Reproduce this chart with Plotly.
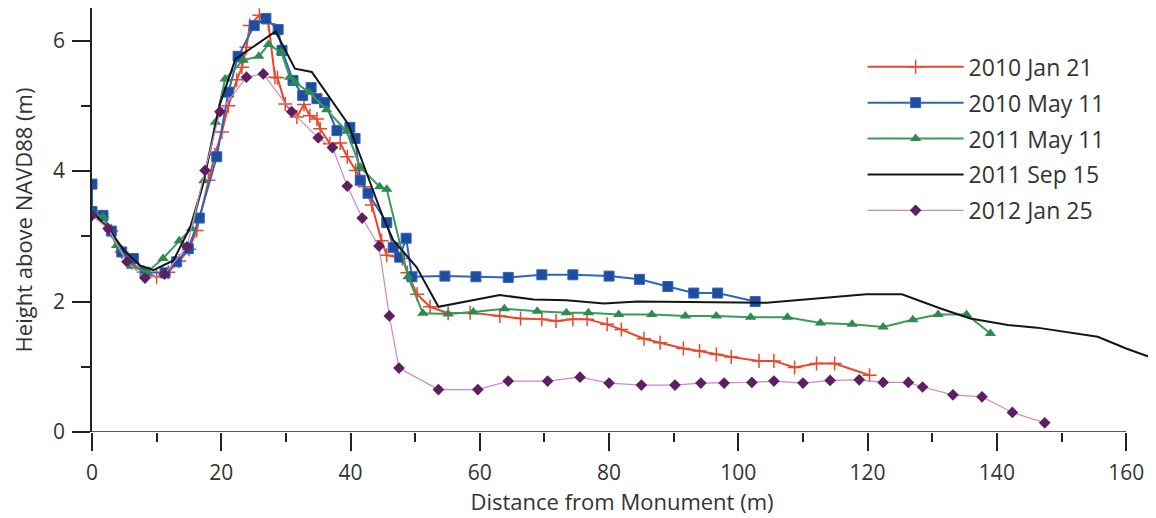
import plotly.graph_objects as go

# ---------------- data ----------------
jan2010_x = [0, 1.5, 3.0, 4.6, 6.2, 8.0, 10.0, 11.8, 13.5, 15.0, 16.2, 18.0, 19.0, 20.1, 21.1, 22.4, 23.2, 23.9, 24.4,
             25.9, 27.3, 28.3, 28.7, 29.9, 31.7, 32.8, 33.7, 34.8, 35.3, 36.8, 38.4, 39.5, 40.8, 42.2, 43.3, 44.8,
             45.6, 48.0, 48.8, 50.3, 52.3, 55.1, 58.5, 63.1, 66.3, 69.6, 71.8, 74.4, 76.6, 79.7, 81.9, 85.4, 87.9,
             91.5, 94.0, 96.6, 98.9, 103.2, 105.5, 108.7, 112.1, 114.9, 120.3]
jan2010_y = [3.35, 3.30, 3.08, 2.76, 2.60, 2.45, 2.38, 2.45, 2.62, 2.80, 3.09, 3.86, 4.25, 4.60, 5.00, 5.40, 5.59, 5.90, 6.23,
             6.39, 6.26, 5.44, 5.43, 5.03, 4.83, 5.02, 4.85, 4.80, 4.65, 4.42, 4.43, 4.22, 4.01, 3.76, 3.48, 2.93,
             2.71, 2.66, 2.44, 2.11, 1.92, 1.82, 1.83, 1.78, 1.74, 1.73, 1.70, 1.73, 1.73, 1.65, 1.57, 1.43, 1.37,
             1.28, 1.24, 1.19, 1.15, 1.09, 1.09, 0.99, 1.05, 1.05, 0.87]

may2010_x = [0, 0, 1.7, 3.0, 4.6, 6.4, 8.2, 11.3, 13.1, 14.9, 16.6, 19.3, 21.1, 22.6, 25.1, 26.9, 28.8, 29.4, 31.1,
             32.6, 33.9, 34.8, 36.0, 37.9, 39.9, 40.7, 41.5, 42.7, 45.6, 46.6, 47.6, 48.6, 49.5, 54.6, 59.4, 64.4,
             69.6, 74.4, 80.0, 84.7, 89.1, 93.1, 96.8, 102.6]
may2010_y = [3.80, 3.38, 3.32, 3.08, 2.76, 2.66, 2.45, 2.44, 2.61, 2.81, 3.28, 4.22, 5.21, 5.76, 6.23, 6.34, 6.17, 5.85, 5.39,
             5.16, 5.28, 5.11, 5.05, 4.62, 4.67, 4.50, 3.86, 3.66, 3.21, 2.83, 2.68, 2.97, 2.38, 2.39, 2.38, 2.37,
             2.41, 2.41, 2.39, 2.34, 2.23, 2.13, 2.13, 2.00]

may2011_x = [0, 1.7, 3.8, 6.1, 8.5, 11.0, 13.5, 15.4, 17.3, 19.1, 20.6, 23.4, 25.8, 27.3, 29.3, 30.6, 31.4, 33.6, 36.3,
             39.4, 41.5, 44.5, 45.6, 48.9, 51.2, 55.1, 59.0, 63.8, 68.9, 73.4, 76.8, 81.5, 86.6, 91.8, 96.6, 101.9,
             107.6, 112.7, 117.6, 122.4, 127.0, 130.9, 135.3, 139.0]
may2011_y = [3.36, 3.30, 2.86, 2.54, 2.45, 2.66, 2.93, 3.12, 3.85, 4.75, 5.41, 5.70, 5.76, 5.94, 5.82, 5.44, 5.36, 5.21, 4.94,
             4.61, 4.06, 3.76, 3.72, 2.38, 1.82, 1.81, 1.84, 1.89, 1.85, 1.83, 1.83, 1.80, 1.80, 1.78, 1.78, 1.76,
             1.76, 1.67, 1.65, 1.61, 1.72, 1.80, 1.80, 1.51]

sep2011_x = [0, 2.5, 5.0, 7.5, 9.5, 12.6, 15.2, 17.2, 19.8, 22.2, 28.4, 31.4, 34.0, 39.7, 45.0, 46.6, 50.2, 53.6,
             63.1, 68.3, 73.4, 79.2, 84.4, 104.4, 119.8, 125.3, 131.4, 135.9, 141.7, 146.2, 155.6, 160.0, 163.9]
sep2011_y = [3.38, 3.12, 2.78, 2.55, 2.48, 2.63, 3.14, 3.81, 5.03, 5.72, 6.14, 5.57, 5.52, 4.71, 3.30, 2.94, 2.53, 1.92,
             2.10, 2.03, 2.02, 1.97, 2.00, 1.98, 2.11, 2.11, 1.89, 1.74, 1.64, 1.60, 1.46, 1.28, 1.14]

jan2012_x = [0, 2.5, 5.4, 8.2, 11.2, 14.7, 17.5, 19.8, 23.9, 26.5, 30.9, 35.0, 37.2, 39.5, 41.8, 44.4, 46.0, 47.5,
             53.6, 59.7, 64.4, 70.5, 75.5, 80.0, 85.0, 90.2, 94.2, 97.8, 102.1, 105.5, 110.0, 114.2, 118.7, 122.4,
             126.3, 128.5, 133.2, 137.7, 142.4, 147.4]
jan2012_y = [3.32, 3.12, 2.61, 2.36, 2.42, 2.84, 4.01, 4.91, 5.44, 5.49, 4.91, 4.51, 4.36, 3.77, 3.28, 2.85, 1.78, 0.98,
             0.65, 0.65, 0.78, 0.78, 0.84, 0.75, 0.72, 0.72, 0.75, 0.75, 0.76, 0.78, 0.75, 0.79, 0.80, 0.76,
             0.76, 0.69, 0.57, 0.54, 0.30, 0.14]

series_names = ["2010 Jan 21", "2010 May 11", "2011 May 11", "2011 Sep 15", "2012 Jan 25"]

x_ticks = [0, 20, 40, 60, 80, 100, 120, 140, 160]
y_ticks = [0, 2, 4, 6]

# ---------------- figure ----------------
FONT = "Open Sans"
TXT = "#333333"
AX = "#222222"

fig = go.Figure()

fig.add_trace(go.Scatter(
    x=jan2010_x, y=jan2010_y, name=series_names[0], mode="lines+markers",
    line=dict(color="#E8482A", width=2),
    marker=dict(symbol="cross-thin", size=10, line=dict(color="#E8482A", width=1.5)),
    legendgroup="a"))
fig.add_trace(go.Scatter(
    x=may2010_x, y=may2010_y, name=series_names[1], mode="lines+markers",
    line=dict(color="#2F64BE", width=2),
    marker=dict(symbol="square", size=10, color="#1E4C9E", line=dict(color="#2F64BE", width=1)),
    legendgroup="b"))
fig.add_trace(go.Scatter(
    x=may2011_x, y=may2011_y, name=series_names[2], mode="lines+markers",
    line=dict(color="#3C9A5C", width=2),
    marker=dict(symbol="triangle-up", size=10, color="#2E8A50"),
    legendgroup="c"))
fig.add_trace(go.Scatter(
    x=sep2011_x, y=sep2011_y, name=series_names[3], mode="lines",
    line=dict(color="#151515", width=2),
    legendgroup="d"))
fig.add_trace(go.Scatter(
    x=jan2012_x, y=jan2012_y, name=series_names[4], mode="lines+markers",
    line=dict(color="#C88AC8", width=1.2),
    marker=dict(symbol="diamond", size=9, color="#5E1E62"),
    legendgroup="e"))

# x axis baseline drawn only to 160 (as in the reference)
fig.add_shape(type="line", xref="x", yref="y", x0=0, x1=160, y0=0, y1=0,
              line=dict(color=AX, width=1.6), layer="above")

fig.update_layout(
    width=1156, height=518,
    margin=dict(l=84, r=12, t=0, b=94, autoexpand=False),
    paper_bgcolor="white", plot_bgcolor="white",
    font=dict(family=FONT, size=22, color=TXT),
    showlegend=True,
    legend=dict(x=0.727, y=0.912, xanchor="left", yanchor="top",
                font=dict(family=FONT, size=23, color=TXT),
                bgcolor="rgba(0,0,0,0)", tracegroupgap=3, traceorder="grouped",
                itemwidth=96),
)

fig.update_xaxes(
    range=[0, 164], tickvals=x_ticks, ticktext=[str(v) for v in x_ticks],
    showgrid=False, zeroline=False, showline=False, automargin=False,
    ticks="outside", ticklen=18, tickwidth=1.6, tickcolor=AX, ticklabelstandoff=4,
    minor=dict(dtick=10, tick0=0, ticks="outside", ticklen=9, tickwidth=1.6, tickcolor=AX),
    tickfont=dict(family=FONT, size=21, color=TXT),
    title=dict(text="Distance from Monument (m)", font=dict(family=FONT, size=22, color=TXT), standoff=0),
)
fig.update_yaxes(
    range=[0, 6.5], tickvals=y_ticks, ticktext=[str(v) for v in y_ticks],
    showgrid=False, zeroline=False, showline=True, linecolor=AX, linewidth=1.6, automargin=False,
    ticks="outside", ticklen=18, tickwidth=1.6, tickcolor=AX, ticklabelstandoff=3,
    minor=dict(dtick=1, tick0=0, ticks="outside", ticklen=9, tickwidth=1.6, tickcolor=AX),
    tickfont=dict(family=FONT, size=21, color=TXT),
    title=dict(text="Height above NAVD88 (m)", font=dict(family=FONT, size=22, color=TXT), standoff=22),
)

fig.write_html("out.html")
